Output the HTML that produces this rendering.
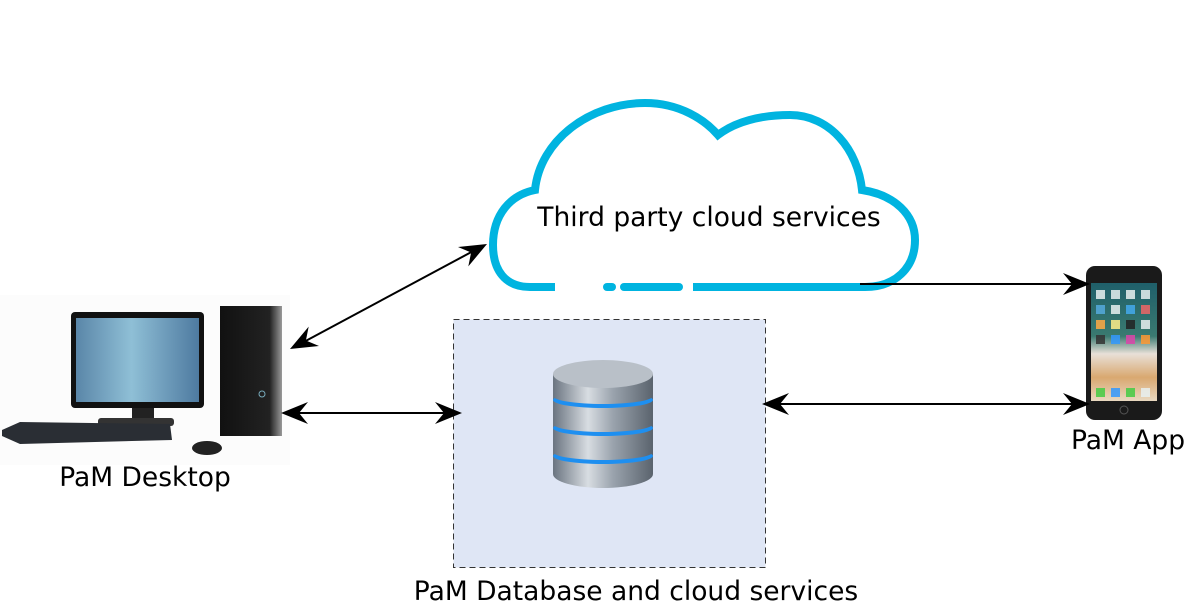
<!DOCTYPE html>
<html><head><meta charset="utf-8"><style>
html,body{margin:0;padding:0;background:#fff;}
svg{display:block;}
text{font-family:"DejaVu Sans","Liberation Sans",sans-serif;fill:#000;}
</style></head><body>
<svg width="1185" height="601" viewBox="0 0 1185 601" xmlns="http://www.w3.org/2000/svg">
<defs>
<linearGradient id="scr" x1="0" x2="1" y1="0" y2="0">
<stop offset="0" stop-color="#5a86a8"/><stop offset="0.45" stop-color="#8fbfd6"/><stop offset="1" stop-color="#4e7aa0"/></linearGradient>
<linearGradient id="tower" x1="0" x2="1"><stop offset="0" stop-color="#111"/><stop offset="0.8" stop-color="#222"/><stop offset="1" stop-color="#999"/></linearGradient>
<linearGradient id="cyl" x1="0" x2="1"><stop offset="0" stop-color="#6a7480"/><stop offset="0.35" stop-color="#d8dde2"/><stop offset="0.6" stop-color="#9aa3ad"/><stop offset="1" stop-color="#5a636d"/></linearGradient>
<linearGradient id="phs" x1="0" x2="0" y1="0" y2="1"><stop offset="0" stop-color="#1f5f6a"/><stop offset="0.45" stop-color="#3a7a70"/><stop offset="0.6" stop-color="#e8e0d8"/><stop offset="0.8" stop-color="#d9a870"/><stop offset="1" stop-color="#e8d8c0"/></linearGradient>
</defs>

<rect x="453.5" y="319.5" width="312" height="248" fill="#dfe6f5" stroke="#333" stroke-width="1" stroke-dasharray="6,4"/>

<path d="M555 287 H530 C505 287 493 270 493 245 C493 215 510 195 535 190 C540 140 590 103 645 103 C680 103 705 120 718 135 C735 122 760 115 790 115 C830 115 858 150 862 190 C895 195 915 215 915 240 C915 268 895 287 865 287 H693" fill="#fff" stroke="#00b4e0" stroke-width="8"/>
<rect x="600" y="280" width="92" height="12" fill="#fff"/>
<line x1="607" y1="287" x2="612" y2="287" stroke="#00b4e0" stroke-width="8" stroke-linecap="round"/>
<line x1="624" y1="287" x2="679" y2="287" stroke="#00b4e0" stroke-width="8" stroke-linecap="round"/>
<text x="709" y="226" font-size="26.5" text-anchor="middle">Third party cloud services</text>

<rect x="0" y="295" width="290" height="170" fill="#fcfcfc"/>
<rect x="71" y="312" width="133" height="96" rx="4" fill="#111"/>
<rect x="76" y="318" width="123" height="84" fill="url(#scr)"/>
<rect x="132" y="408" width="22" height="12" fill="#222"/>
<rect x="98" y="418" width="76" height="8" rx="3" fill="#333"/>
<rect x="220" y="306" width="62" height="130" fill="url(#tower)"/>
<circle cx="262" cy="394" r="3" fill="none" stroke="#7ab" stroke-width="1"/>
<polygon points="2,430 20,422 170,424 172,440 20,444 2,436" fill="#2a2e34"/>
<ellipse cx="207" cy="448" rx="15" ry="7" fill="#222"/>
<text x="145" y="486" font-size="26.5" text-anchor="middle">PaM Desktop</text>

<rect x="1086" y="266" width="76" height="154" rx="9" fill="#1a1a1a"/>
<rect x="1091" y="283" width="66" height="118" fill="url(#phs)"/>
<g fill="#e8f0f0" opacity="0.85">
<rect x="1096" y="290" width="9" height="9"/><rect x="1111" y="290" width="9" height="9"/><rect x="1126" y="290" width="9" height="9"/><rect x="1141" y="290" width="9" height="9"/>
<rect x="1096" y="305" width="9" height="9" fill="#5ad"/><rect x="1111" y="305" width="9" height="9"/><rect x="1126" y="305" width="9" height="9" fill="#4ae"/><rect x="1141" y="305" width="9" height="9" fill="#e66"/>
<rect x="1096" y="320" width="9" height="9" fill="#fa4"/><rect x="1111" y="320" width="9" height="9" fill="#fe8"/><rect x="1126" y="320" width="9" height="9" fill="#222"/><rect x="1141" y="320" width="9" height="9"/>
<rect x="1096" y="335" width="9" height="9" fill="#333"/><rect x="1111" y="335" width="9" height="9" fill="#39f"/><rect x="1126" y="335" width="9" height="9" fill="#d4a"/><rect x="1141" y="335" width="9" height="9" fill="#f93"/>
<rect x="1096" y="388" width="9" height="9" fill="#4c4"/><rect x="1111" y="388" width="9" height="9" fill="#39f"/><rect x="1126" y="388" width="9" height="9" fill="#4c4"/><rect x="1141" y="388" width="9" height="9"/>
</g>
<circle cx="1124" cy="410" r="4" fill="none" stroke="#555"/>
<text x="1128" y="449" font-size="26.5" text-anchor="middle">PaM App</text>

<g>
<rect x="553" y="452" width="100" height="22" fill="url(#cyl)"/>
<ellipse cx="603" cy="474" rx="50" ry="14" fill="url(#cyl)"/>
<ellipse cx="603" cy="456" rx="50" ry="8" fill="#1e8ff0"/>
<rect x="553" y="424" width="100" height="28" fill="url(#cyl)"/>
<ellipse cx="603" cy="452" rx="50" ry="8" fill="url(#cyl)"/>
<ellipse cx="603" cy="428" rx="50" ry="8" fill="#1e8ff0"/>
<rect x="553" y="396" width="100" height="28" fill="url(#cyl)"/>
<ellipse cx="603" cy="424" rx="50" ry="8" fill="url(#cyl)"/>
<ellipse cx="603" cy="400" rx="50" ry="8" fill="#1e8ff0"/>
<rect x="553" y="374" width="100" height="22" fill="url(#cyl)"/>
<ellipse cx="603" cy="396" rx="50" ry="8" fill="url(#cyl)"/>
<ellipse cx="603" cy="374" rx="50" ry="14" fill="#b9c0c8"/>
</g>
<text x="636" y="600" font-size="26.5" text-anchor="middle">PaM Database and cloud services</text>

<g stroke="#000" stroke-width="2" fill="none">
<line x1="300" y1="344" x2="477" y2="249"/>
<line x1="292" y1="413" x2="452" y2="413"/>
<line x1="860" y1="284" x2="1080" y2="284"/>
<line x1="772" y1="404" x2="1080" y2="404"/>
</g>
<g fill="#000">
<path d="M0 0 L-27 -11 L-18 0 L-27 11 Z" transform="translate(487,244) rotate(-28)"/>
<path d="M0 0 L-27 -11 L-18 0 L-27 11 Z" transform="translate(290,349) rotate(152)"/>
<path d="M0 0 L-27 -11 L-18 0 L-27 11 Z" transform="translate(281,413) rotate(180)"/>
<path d="M0 0 L-27 -11 L-18 0 L-27 11 Z" transform="translate(462,413)"/>
<path d="M0 0 L-27 -11 L-18 0 L-27 11 Z" transform="translate(1090,284)"/>
<path d="M0 0 L-27 -11 L-18 0 L-27 11 Z" transform="translate(1090,404)"/>
<path d="M0 0 L-27 -11 L-18 0 L-27 11 Z" transform="translate(762,404) rotate(180)"/>
</g>
</svg>
</body></html>
